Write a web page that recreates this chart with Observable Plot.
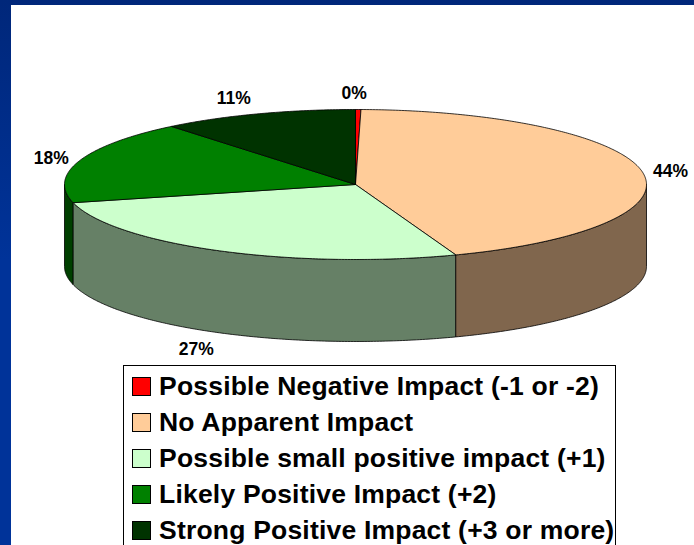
<!DOCTYPE html>
<html>
<head>
<meta charset="utf-8">
<script src="https://cdn.jsdelivr.net/npm/d3@7"></script>
<script src="https://cdn.jsdelivr.net/npm/@observablehq/plot@0.6"></script>
<style>
html,body{margin:0;padding:0;width:694px;height:545px;overflow:hidden;background:#fff}
#page{position:relative;width:694px;height:545px;overflow:hidden;background:linear-gradient(180deg,#00277a 0,#003399 260px,#003399 100%);font-family:"Liberation Sans",Arial,sans-serif}
#panel{position:absolute;left:11px;top:5px;right:0;bottom:0;background:#fff}
#chart{position:absolute;left:0;top:0}
#chart svg{display:block;background:transparent}
#legend{position:absolute;left:123px;top:365px;width:491px;height:190px;border:1px solid #000;background:#fff;box-sizing:content-box}
.row{position:absolute;left:8px;height:36px;display:flex;align-items:center;white-space:nowrap;font-weight:bold;font-size:26.5px;letter-spacing:0.2px;color:#000}
.sw{width:17px;height:17px;border:1px solid #000;margin-right:8px;flex:none}
</style>
</head>
<body>
<div id="page"><div id="panel"></div><div id="chart"></div><div id="legend"></div></div>
<script>
const categories = ["Possible Negative Impact (-1 or -2)","No Apparent Impact","Possible small positive impact (+1)","Likely Positive Impact (+2)","Strong Positive Impact (+3 or more)"];
const shares = [0.3, 44.1, 26.7, 18.0, 10.9];
const colors = ["#FF0000","#FFCC99","#CCFFCC","#008000","#003300"];
const sideColors = ["#800000","#80664D","#668066","#004000","#001A00"];
const labelNudgeX = [-4, 28, -23, -28, -24];
const labelNudgeY = [-16, -1, 17, -2, -15];

const cx = 355, cy = 184, rx = 291, ry = 75, depth = 82;
const total = d3.sum(shares);
let acc = 0;
const slices = shares.map((v, i) => {
  const a0 = acc / total * 2 * Math.PI; acc += v;
  const a1 = acc / total * 2 * Math.PI;
  return {i, v, a0, a1};
});
const px = a => cx + rx * Math.sin(a);
const py = (a, d = 0) => cy - ry * Math.cos(a) + d;
const arc = (a0, a1, d = 0) => {
  const n = Math.max(2, Math.ceil((a1 - a0) / 0.01));
  return d3.range(n + 1).map(k => {
    const a = a0 + (a1 - a0) * k / n;
    return {x: px(a), y: py(a, d)};
  });
};

const faces = [];
// side walls, front half only, drawn left to right
[...slices].reverse().forEach(s => {
  const a0 = Math.max(s.a0, Math.PI / 2), a1 = Math.min(s.a1, 3 * Math.PI / 2);
  if (a1 <= a0) return;
  const pts = [...arc(a0, a1), ...arc(a0, a1, depth).reverse()];
  pts.push(pts[0]);
  pts.forEach(p => faces.push({...p, part: "side" + s.i, color: sideColors[s.i]}));
});
slices.forEach(s => {
  const pts = [{x: cx, y: cy}, ...arc(s.a0, s.a1), {x: cx, y: cy}];
  pts.forEach(p => faces.push({...p, part: "top" + s.i, color: colors[s.i]}));
});

const labels = slices.map(s => {
  const m = (s.a0 + s.a1) / 2;
  const front = Math.cos(m) < -0.5;
  return {
    x: px(m) + labelNudgeX[s.i],
    y: py(m, front ? depth : 0) + labelNudgeY[s.i],
    text: Math.round(s.v) + "%"
  };
});

const plot = Plot.plot({
  width: 694, height: 363, margin: 0,
  x: {domain: [0, 694], range: [0, 694], axis: null},
  y: {domain: [0, 363], range: [0, 363], axis: null},
  color: {type: "identity"},
  style: {background: "transparent", overflow: "visible"},
  marks: [
    Plot.line(faces, {x: "x", y: "y", z: "part", fill: "color", stroke: "#000", strokeWidth: 0.8, strokeLinejoin: "round", curve: "linear"}),
    Plot.text(labels, {x: "x", y: "y", text: "text", fontFamily: "Liberation Sans, Arial, sans-serif", fontWeight: "bold", fontSize: 17.5, fill: "#000"})
  ]
});
document.getElementById("chart").appendChild(plot);

const legend = document.getElementById("legend");
categories.forEach((c, i) => {
  const r = document.createElement("div");
  r.className = "row";
  r.style.top = (2 + i * 36) + "px";
  const s = document.createElement("span");
  s.className = "sw"; s.style.background = colors[i];
  const t = document.createElement("span");
  t.textContent = c;
  r.append(s, t);
  legend.appendChild(r);
});
</script>
</body>
</html>
